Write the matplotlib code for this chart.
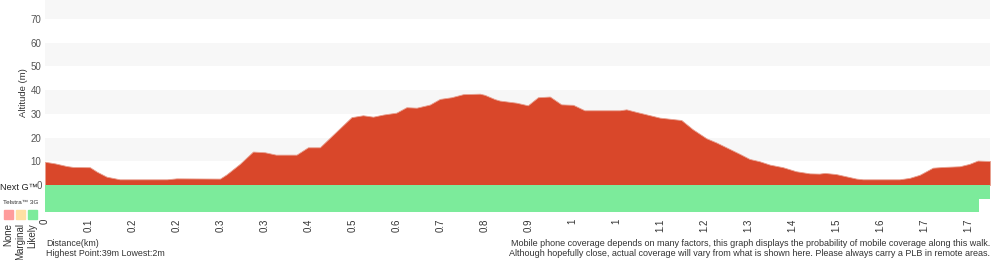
import numpy as np
import matplotlib
matplotlib.use('Agg')
import matplotlib.pyplot as plt

plt.rcParams['font.family'] = ['Liberation Sans', 'DejaVu Sans']

# profile samples (x in sample units, ticks every 10 samples), altitude in m
dist_idx = [0, 2.3, 4.9, 6.4, 10.2, 11.8, 14.0, 17.0, 27.7, 29.9, 39.8, 41.3, 44.3, 47.3,
            50.0, 52.5, 57.2, 59.8, 62.5, 69.7, 72.3, 74.6, 76.9, 79.9, 82.2, 84.5, 87.5,
            89.8, 92.4, 95.1, 98.9, 100.0, 102.3, 103.4, 107.2, 109.8, 112.1, 114.8, 117.4,
            120.1, 122.7, 130.7, 132.2, 134.5, 139.8, 144.7, 147.3, 150.4, 152.7, 158.0,
            160.2, 162.5, 164.8, 167.8, 170.8, 173.9, 176.1, 177.3, 179.9, 184.5, 186.0,
            194.3, 196.6, 198.9, 201.9, 204.2, 208.0, 210.2, 212.1, 214.9]
altitude = [9.8, 9.1, 8.0, 7.6, 7.5, 5.6, 3.5, 2.4, 2.4, 2.8, 2.7, 4.5, 8.9, 14.1,
            13.8, 12.8, 12.8, 15.9, 15.9, 28.6, 29.4, 28.8, 29.7, 30.5, 32.8, 32.6, 33.9,
            36.3, 37.0, 38.3, 38.5, 38.0, 36.2, 35.6, 34.7, 33.6, 37.0, 37.3, 34.0,
            33.8, 31.5, 31.5, 31.9, 30.8, 28.4, 27.4, 23.5, 19.7, 17.9, 13.1,
            11.0, 10.0, 8.6, 7.5, 5.8, 4.9, 4.8, 5.1, 4.6, 2.7, 2.4,
            2.4, 3.0, 4.3, 7.3, 7.6, 7.9, 8.9, 10.3, 10.1]

tick_pos = list(range(0, 220, 10))
tick_labels = ['0', '0.1', '0.2', '0.2', '0.3', '0.3', '0.4', '0.5', '0.6', '0.7', '0.8',
               '0.9', '1', '1', '1.1', '1.2', '1.3', '1.4', '1.5', '1.6', '1.7', '1.7']
y_ticks = [0, 10, 20, 30, 40, 50, 60, 70]

# coverage rows: end of "likely" coverage in sample units
nextg_end = 214.9
g3_end = 212.5

legend_names = ['None', 'Marginal', 'Likely']
legend_colors = ['#ff9c9c', '#ffe0a3', '#7ceb9b']

RED = '#d9472a'
GREEN = '#7ceb9b'
BAND = '#f7f7f7'
W, H = 1000, 260

def fx(px):
    return px / W

def fy(py):
    return 1 - py / H

fig = plt.figure(figsize=(10, 2.6), dpi=100)

# altitude profile
ax = fig.add_axes([fx(45), fy(185), fx(990 - 45), (185.0) / H])
xmax = dist_idx[-1]
ymax = 78
for lo in range(10, 80, 20):
    ax.axhspan(lo, lo + 10, color=BAND, lw=0, zorder=0)
ax.fill_between(dist_idx, altitude, 0, color=RED, lw=0.6, edgecolor='#e8a090', zorder=2)
ax.set_xlim(0, xmax)
ax.set_ylim(0, ymax)
ax.set_yticks(y_ticks)
ax.set_yticklabels([str(v) for v in y_ticks], fontsize=7, color='#555555')
ax.tick_params(axis='y', length=0, pad=2.5)
ax.set_xticks([])
for s in ax.spines.values():
    s.set_visible(False)
ax.set_ylabel('Altitude (m)', fontsize=6.8, color='#333333')
ax.yaxis.set_label_coords(-0.0185, 0.5)

# coverage strip
cax = fig.add_axes([fx(45), fy(212), fx(990 - 45), 27.0 / H])
cax.barh([1], [nextg_end], left=0, height=1, color=GREEN, lw=0, align='edge')
cax.barh([0], [g3_end], left=0, height=1, color=GREEN, lw=0, align='edge')
cax.set_xlim(0, xmax)
cax.set_ylim(0, 2)
cax.set_yticks([])
cax.set_xticks(tick_pos)
cax.set_xticklabels(tick_labels, rotation=90, fontsize=7, color='#333333')
cax.tick_params(axis='x', length=0, pad=5)
for s in cax.spines.values():
    s.set_visible(False)

# left legend
fig.text(fx(0), fy(188), 'Next G\u2122', fontsize=6.6, color='#222222', va='center', ha='left')
fig.text(fx(3), fy(203), 'Telstra\u2122 3G', fontsize=4.6, color='#333333', va='center', ha='left')
for i, (name, col) in enumerate(zip(legend_names, legend_colors)):
    x0 = 4 + i * 12
    fig.patches.append(plt.Rectangle((fx(x0), fy(219)), fx(9), 9.0 / H, color=col,
                                     transform=fig.transFigure, figure=fig))
    fig.text(fx(x0 + 4.5), fy(223), name, rotation=90, fontsize=7, color='#333333',
             ha='center', va='top')

# footer texts
fig.text(fx(46), fy(243), 'Distance(km)', fontsize=6.4, color='#333333', va='center')
fig.text(fx(46), fy(253), 'Highest Point:39m Lowest:2m', fontsize=6.4, color='#333333', va='center')
fig.text(fx(990), fy(243), 'Mobile phone coverage depends on many factors, this graph displays '
         'the probability of mobile coverage along this walk.', fontsize=6.5, color='#333333',
         va='center', ha='right')
fig.text(fx(990), fy(253), 'Although hopefully close, actual coverage will vary from what is shown '
         'here. Please always carry a PLB in remote areas.', fontsize=6.5, color='#333333',
         va='center', ha='right')

fig.savefig('out.png', dpi=100)
